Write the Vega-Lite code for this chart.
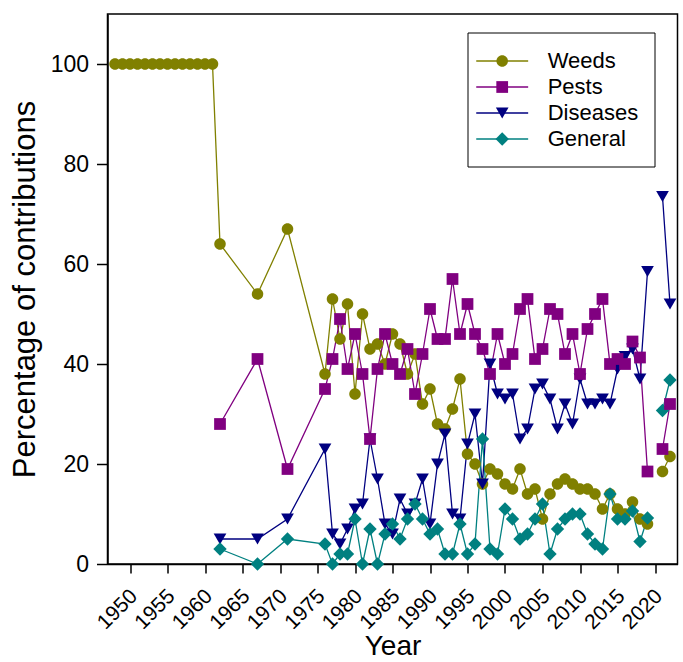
{
  "$schema": "https://vega.github.io/schema/vega-lite/v6.json",
  "width": 570,
  "height": 550,
  "autosize": {"type": "none"},
  "padding": {"left": 107.5, "top": 14, "right": 5.5, "bottom": 98},
  "background": "white",
  "config": {
    "font": "Liberation Sans",
    "view": {"stroke": "black", "strokeWidth": 1.5},
    "axis": {
      "domainColor": "black", "tickColor": "black", "grid": false,
      "labelColor": "black", "titleColor": "black",
      "labelFont": "Liberation Sans", "titleFont": "Liberation Sans",
      "titleFontWeight": "normal", "domainWidth": 1.5, "tickWidth": 1.5,
      "labelFlush": false, "labelOverlap": false
    },
    "legend": {"labelFont": "Liberation Sans"}
  },
  "data": {"values": [
    {"Year": 1948, "Category": "Weeds", "Value": 100},
    {"Year": 1949, "Category": "Weeds", "Value": 100},
    {"Year": 1950, "Category": "Weeds", "Value": 100},
    {"Year": 1951, "Category": "Weeds", "Value": 100},
    {"Year": 1952, "Category": "Weeds", "Value": 100},
    {"Year": 1953, "Category": "Weeds", "Value": 100},
    {"Year": 1954, "Category": "Weeds", "Value": 100},
    {"Year": 1955, "Category": "Weeds", "Value": 100},
    {"Year": 1956, "Category": "Weeds", "Value": 100},
    {"Year": 1957, "Category": "Weeds", "Value": 100},
    {"Year": 1958, "Category": "Weeds", "Value": 100},
    {"Year": 1959, "Category": "Weeds", "Value": 100},
    {"Year": 1960, "Category": "Weeds", "Value": 100},
    {"Year": 1961, "Category": "Weeds", "Value": 100},
    {"Year": 1962, "Category": "Weeds", "Value": 64},
    {"Year": 1967, "Category": "Weeds", "Value": 54},
    {"Year": 1971, "Category": "Weeds", "Value": 67},
    {"Year": 1976, "Category": "Weeds", "Value": 38},
    {"Year": 1977, "Category": "Weeds", "Value": 53},
    {"Year": 1978, "Category": "Weeds", "Value": 45},
    {"Year": 1979, "Category": "Weeds", "Value": 52},
    {"Year": 1980, "Category": "Weeds", "Value": 34},
    {"Year": 1981, "Category": "Weeds", "Value": 50},
    {"Year": 1982, "Category": "Weeds", "Value": 43},
    {"Year": 1983, "Category": "Weeds", "Value": 44},
    {"Year": 1984, "Category": "Weeds", "Value": 40},
    {"Year": 1985, "Category": "Weeds", "Value": 46},
    {"Year": 1986, "Category": "Weeds", "Value": 44},
    {"Year": 1987, "Category": "Weeds", "Value": 38},
    {"Year": 1988, "Category": "Weeds", "Value": 42},
    {"Year": 1989, "Category": "Weeds", "Value": 32},
    {"Year": 1990, "Category": "Weeds", "Value": 35},
    {"Year": 1991, "Category": "Weeds", "Value": 28},
    {"Year": 1992, "Category": "Weeds", "Value": 27},
    {"Year": 1993, "Category": "Weeds", "Value": 31},
    {"Year": 1994, "Category": "Weeds", "Value": 37},
    {"Year": 1995, "Category": "Weeds", "Value": 22},
    {"Year": 1996, "Category": "Weeds", "Value": 20},
    {"Year": 1997, "Category": "Weeds", "Value": 16},
    {"Year": 1998, "Category": "Weeds", "Value": 19},
    {"Year": 1999, "Category": "Weeds", "Value": 18},
    {"Year": 2000, "Category": "Weeds", "Value": 16},
    {"Year": 2001, "Category": "Weeds", "Value": 15},
    {"Year": 2002, "Category": "Weeds", "Value": 19},
    {"Year": 2003, "Category": "Weeds", "Value": 14},
    {"Year": 2004, "Category": "Weeds", "Value": 15},
    {"Year": 2005, "Category": "Weeds", "Value": 9},
    {"Year": 2006, "Category": "Weeds", "Value": 14},
    {"Year": 2007, "Category": "Weeds", "Value": 16},
    {"Year": 2008, "Category": "Weeds", "Value": 17},
    {"Year": 2009, "Category": "Weeds", "Value": 16},
    {"Year": 2010, "Category": "Weeds", "Value": 15},
    {"Year": 2011, "Category": "Weeds", "Value": 15},
    {"Year": 2012, "Category": "Weeds", "Value": 14},
    {"Year": 2013, "Category": "Weeds", "Value": 11},
    {"Year": 2014, "Category": "Weeds", "Value": 14},
    {"Year": 2015, "Category": "Weeds", "Value": 11},
    {"Year": 2016, "Category": "Weeds", "Value": 10},
    {"Year": 2017, "Category": "Weeds", "Value": 12.4},
    {"Year": 2018, "Category": "Weeds", "Value": 9},
    {"Year": 2019, "Category": "Weeds", "Value": 8},
    {"Year": 2020, "Category": "Weeds", "Value": null},
    {"Year": 2021, "Category": "Weeds", "Value": 18.5},
    {"Year": 2022, "Category": "Weeds", "Value": 21.5},

    {"Year": 1962, "Category": "Diseases", "Value": 5},
    {"Year": 1967, "Category": "Diseases", "Value": 5},
    {"Year": 1971, "Category": "Diseases", "Value": 9},
    {"Year": 1976, "Category": "Diseases", "Value": 23},
    {"Year": 1977, "Category": "Diseases", "Value": 6},
    {"Year": 1978, "Category": "Diseases", "Value": 4},
    {"Year": 1979, "Category": "Diseases", "Value": 7},
    {"Year": 1980, "Category": "Diseases", "Value": 11},
    {"Year": 1981, "Category": "Diseases", "Value": 12},
    {"Year": 1982, "Category": "Diseases", "Value": 25},
    {"Year": 1983, "Category": "Diseases", "Value": 17},
    {"Year": 1984, "Category": "Diseases", "Value": 8},
    {"Year": 1985, "Category": "Diseases", "Value": 6},
    {"Year": 1986, "Category": "Diseases", "Value": 13},
    {"Year": 1987, "Category": "Diseases", "Value": 10},
    {"Year": 1988, "Category": "Diseases", "Value": 12},
    {"Year": 1989, "Category": "Diseases", "Value": 17},
    {"Year": 1990, "Category": "Diseases", "Value": 8},
    {"Year": 1991, "Category": "Diseases", "Value": 20},
    {"Year": 1992, "Category": "Diseases", "Value": 26},
    {"Year": 1993, "Category": "Diseases", "Value": 10},
    {"Year": 1994, "Category": "Diseases", "Value": 9},
    {"Year": 1995, "Category": "Diseases", "Value": 24},
    {"Year": 1996, "Category": "Diseases", "Value": 30},
    {"Year": 1997, "Category": "Diseases", "Value": 16},
    {"Year": 1998, "Category": "Diseases", "Value": 40},
    {"Year": 1999, "Category": "Diseases", "Value": 34},
    {"Year": 2000, "Category": "Diseases", "Value": 33},
    {"Year": 2001, "Category": "Diseases", "Value": 34},
    {"Year": 2002, "Category": "Diseases", "Value": 25},
    {"Year": 2003, "Category": "Diseases", "Value": 27},
    {"Year": 2004, "Category": "Diseases", "Value": 35},
    {"Year": 2005, "Category": "Diseases", "Value": 36},
    {"Year": 2006, "Category": "Diseases", "Value": 33},
    {"Year": 2007, "Category": "Diseases", "Value": 27},
    {"Year": 2008, "Category": "Diseases", "Value": 32},
    {"Year": 2009, "Category": "Diseases", "Value": 28},
    {"Year": 2010, "Category": "Diseases", "Value": 37},
    {"Year": 2011, "Category": "Diseases", "Value": 32},
    {"Year": 2012, "Category": "Diseases", "Value": 32},
    {"Year": 2013, "Category": "Diseases", "Value": 33},
    {"Year": 2014, "Category": "Diseases", "Value": 32},
    {"Year": 2015, "Category": "Diseases", "Value": 39},
    {"Year": 2016, "Category": "Diseases", "Value": 41.5},
    {"Year": 2017, "Category": "Diseases", "Value": 43},
    {"Year": 2018, "Category": "Diseases", "Value": 37},
    {"Year": 2019, "Category": "Diseases", "Value": 58.5},
    {"Year": 2020, "Category": "Diseases", "Value": null},
    {"Year": 2021, "Category": "Diseases", "Value": 73.5},
    {"Year": 2022, "Category": "Diseases", "Value": 52},

    {"Year": 1962, "Category": "General", "Value": 3},
    {"Year": 1967, "Category": "General", "Value": 0},
    {"Year": 1971, "Category": "General", "Value": 5},
    {"Year": 1976, "Category": "General", "Value": 4},
    {"Year": 1977, "Category": "General", "Value": 0},
    {"Year": 1978, "Category": "General", "Value": 2},
    {"Year": 1979, "Category": "General", "Value": 2},
    {"Year": 1980, "Category": "General", "Value": 9},
    {"Year": 1981, "Category": "General", "Value": 0},
    {"Year": 1982, "Category": "General", "Value": 7},
    {"Year": 1983, "Category": "General", "Value": 0},
    {"Year": 1984, "Category": "General", "Value": 6},
    {"Year": 1985, "Category": "General", "Value": 8},
    {"Year": 1986, "Category": "General", "Value": 5},
    {"Year": 1987, "Category": "General", "Value": 9},
    {"Year": 1988, "Category": "General", "Value": 12},
    {"Year": 1989, "Category": "General", "Value": 9},
    {"Year": 1990, "Category": "General", "Value": 6},
    {"Year": 1991, "Category": "General", "Value": 7},
    {"Year": 1992, "Category": "General", "Value": 2},
    {"Year": 1993, "Category": "General", "Value": 2},
    {"Year": 1994, "Category": "General", "Value": 8},
    {"Year": 1995, "Category": "General", "Value": 2},
    {"Year": 1996, "Category": "General", "Value": 4},
    {"Year": 1997, "Category": "General", "Value": 25},
    {"Year": 1998, "Category": "General", "Value": 3},
    {"Year": 1999, "Category": "General", "Value": 2},
    {"Year": 2000, "Category": "General", "Value": 11},
    {"Year": 2001, "Category": "General", "Value": 9},
    {"Year": 2002, "Category": "General", "Value": 5},
    {"Year": 2003, "Category": "General", "Value": 6},
    {"Year": 2004, "Category": "General", "Value": 9},
    {"Year": 2005, "Category": "General", "Value": 12},
    {"Year": 2006, "Category": "General", "Value": 2},
    {"Year": 2007, "Category": "General", "Value": 7},
    {"Year": 2008, "Category": "General", "Value": 9},
    {"Year": 2009, "Category": "General", "Value": 10},
    {"Year": 2010, "Category": "General", "Value": 10},
    {"Year": 2011, "Category": "General", "Value": 6},
    {"Year": 2012, "Category": "General", "Value": 4},
    {"Year": 2013, "Category": "General", "Value": 3},
    {"Year": 2014, "Category": "General", "Value": 14},
    {"Year": 2015, "Category": "General", "Value": 9},
    {"Year": 2016, "Category": "General", "Value": 9},
    {"Year": 2017, "Category": "General", "Value": 10.6},
    {"Year": 2018, "Category": "General", "Value": 4.5},
    {"Year": 2019, "Category": "General", "Value": 9.2},
    {"Year": 2020, "Category": "General", "Value": null},
    {"Year": 2021, "Category": "General", "Value": 30.7},
    {"Year": 2022, "Category": "General", "Value": 36.8},

    {"Year": 1962, "Category": "Pests", "Value": 28},
    {"Year": 1967, "Category": "Pests", "Value": 41},
    {"Year": 1971, "Category": "Pests", "Value": 19},
    {"Year": 1976, "Category": "Pests", "Value": 35},
    {"Year": 1977, "Category": "Pests", "Value": 41},
    {"Year": 1978, "Category": "Pests", "Value": 49},
    {"Year": 1979, "Category": "Pests", "Value": 39},
    {"Year": 1980, "Category": "Pests", "Value": 46},
    {"Year": 1981, "Category": "Pests", "Value": 38},
    {"Year": 1982, "Category": "Pests", "Value": 25},
    {"Year": 1983, "Category": "Pests", "Value": 39},
    {"Year": 1984, "Category": "Pests", "Value": 46},
    {"Year": 1985, "Category": "Pests", "Value": 40},
    {"Year": 1986, "Category": "Pests", "Value": 38},
    {"Year": 1987, "Category": "Pests", "Value": 43},
    {"Year": 1988, "Category": "Pests", "Value": 34},
    {"Year": 1989, "Category": "Pests", "Value": 42},
    {"Year": 1990, "Category": "Pests", "Value": 51},
    {"Year": 1991, "Category": "Pests", "Value": 45},
    {"Year": 1992, "Category": "Pests", "Value": 45},
    {"Year": 1993, "Category": "Pests", "Value": 57},
    {"Year": 1994, "Category": "Pests", "Value": 46},
    {"Year": 1995, "Category": "Pests", "Value": 52},
    {"Year": 1996, "Category": "Pests", "Value": 46},
    {"Year": 1997, "Category": "Pests", "Value": 43},
    {"Year": 1998, "Category": "Pests", "Value": 38},
    {"Year": 1999, "Category": "Pests", "Value": 46},
    {"Year": 2000, "Category": "Pests", "Value": 40},
    {"Year": 2001, "Category": "Pests", "Value": 42},
    {"Year": 2002, "Category": "Pests", "Value": 51},
    {"Year": 2003, "Category": "Pests", "Value": 53},
    {"Year": 2004, "Category": "Pests", "Value": 41},
    {"Year": 2005, "Category": "Pests", "Value": 43},
    {"Year": 2006, "Category": "Pests", "Value": 51},
    {"Year": 2007, "Category": "Pests", "Value": 50},
    {"Year": 2008, "Category": "Pests", "Value": 42},
    {"Year": 2009, "Category": "Pests", "Value": 46},
    {"Year": 2010, "Category": "Pests", "Value": 38},
    {"Year": 2011, "Category": "Pests", "Value": 47},
    {"Year": 2012, "Category": "Pests", "Value": 50},
    {"Year": 2013, "Category": "Pests", "Value": 53},
    {"Year": 2014, "Category": "Pests", "Value": 40},
    {"Year": 2015, "Category": "Pests", "Value": 41},
    {"Year": 2016, "Category": "Pests", "Value": 40},
    {"Year": 2017, "Category": "Pests", "Value": 44.5},
    {"Year": 2018, "Category": "Pests", "Value": 41.3},
    {"Year": 2019, "Category": "Pests", "Value": 18.5},
    {"Year": 2020, "Category": "Pests", "Value": null},
    {"Year": 2021, "Category": "Pests", "Value": 23},
    {"Year": 2022, "Category": "Pests", "Value": 32}
  ]},
  "encoding": {
    "x": {
      "field": "Year", "type": "quantitative",
      "scale": {"domain": [1947, 2023], "nice": false, "zero": false},
      "axis": {
        "values": [1950, 1955, 1960, 1965, 1970, 1975, 1980, 1985, 1990, 1995, 2000, 2005, 2010, 2015, 2020],
        "format": "d", "labelAngle": -45, "labelFontSize": 21, "tickSize": 9,
        "labelPadding": 12, "labelOffset": -4,
        "title": "Year", "titleFontSize": 28, "titlePadding": 0
      }
    },
    "y": {
      "field": "Value", "type": "quantitative",
      "scale": {"domain": [0, 110], "nice": false},
      "axis": {
        "values": [0, 20, 40, 60, 80, 100],
        "labelFontSize": 23, "tickSize": 11, "labelPadding": 8,
        "title": "Percentage of contributions", "titleFontSize": 31, "titlePadding": 9
      }
    }
  },
  "layer": [
    {
      "mark": {"type": "line", "strokeWidth": 1.3},
      "encoding": {
        "stroke": {
          "field": "Category", "type": "nominal",
          "sort": ["Weeds", "Pests", "Diseases", "General"],
          "scale": {"range": ["#808000", "#800080", "#000080", "#008080"]},
          "legend": {
            "title": null, "orient": "none", "legendX": 360, "legendY": 18.5,
            "strokeColor": "black", "padding": 16,
            "labelFontSize": 22, "labelColor": "black",
            "symbolType": "M-2.21,0H2.21", "symbolSize": 552, "symbolStrokeWidth": 1.5,
            "symbolOffset": 6.2, "labelOffset": 33, "rowPadding": 2
          }
        }
      }
    },
    {
      "mark": {"type": "point", "filled": true, "opacity": 1, "size": 552},
      "encoding": {
        "fill": {
          "field": "Category", "type": "nominal",
          "scale": {"domain": ["Weeds", "Pests", "Diseases", "General"], "range": ["#808000", "#800080", "#000080", "#008080"]},
          "legend": {
            "title": null, "orient": "none", "legendX": 360, "legendY": 18.5,
            "padding": 16, "labelFontSize": 22, "labelOpacity": 0,
            "symbolSize": 552, "symbolStrokeWidth": 1.5,
            "symbolOffset": 6.2, "labelOffset": 33, "rowPadding": 2
          }
        },
        "shape": {
          "field": "Category", "type": "nominal",
          "scale": {"domain": ["Weeds", "Pests", "Diseases", "General"], "range": [
            "M0.49,0A0.49,0.49,0,1,1,-0.49,0A0.49,0.49,0,1,1,0.49,0Z",
            "M-0.5,-0.5H0.5V0.5H-0.5Z",
            "M0,0.47L-0.54,-0.47L0.54,-0.47Z",
            "M-0.57,0L0,-0.57L0.57,0L0,0.57Z"
          ]},
          "legend": {
            "title": null, "orient": "none", "legendX": 360, "legendY": 18.5,
            "padding": 16, "labelFontSize": 22, "labelOpacity": 0,
            "symbolSize": 552, "symbolStrokeWidth": 1.5,
            "symbolOffset": 6.2, "labelOffset": 33, "rowPadding": 2
          }
        }
      }
    }
  ]
}
